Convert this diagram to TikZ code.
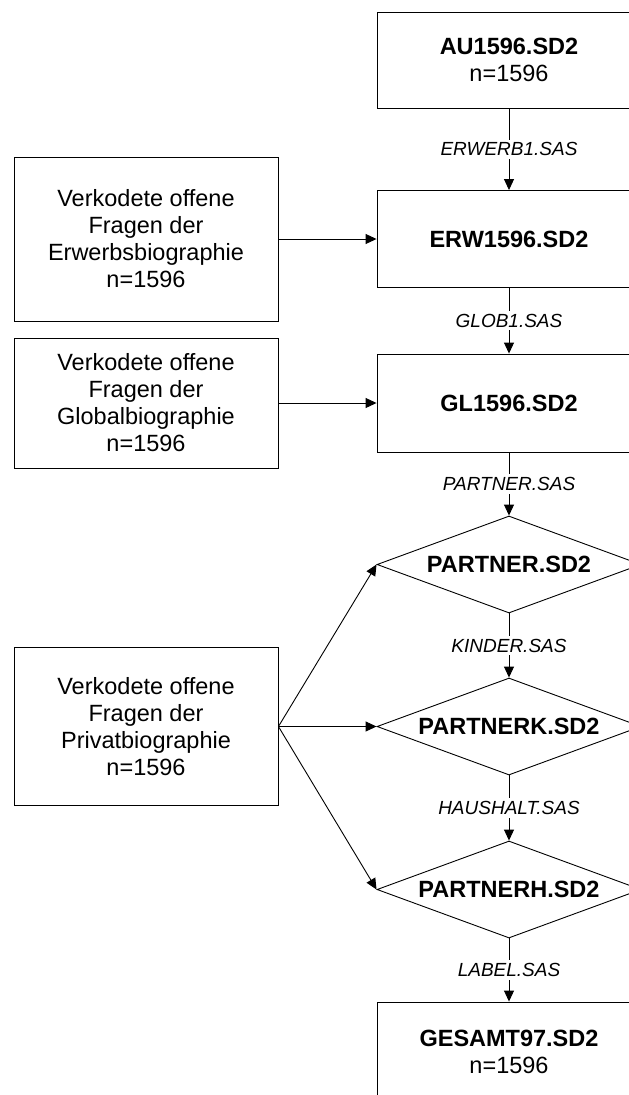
\documentclass[tikz,border=0pt]{standalone}
\usepackage{fontspec}
\setmainfont{Liberation Sans}
\usetikzlibrary{arrows.meta,shapes.geometric}

\begin{document}
\begin{tikzpicture}[x=1pt,y=-1pt,line width=.9pt,
    datei/.style={draw,rectangle,minimum width=264pt,inner sep=0pt,align=center,
      font=\fontsize{23.5}{27}\selectfont},
    raute/.style={draw,diamond,aspect=2.7,minimum width=264pt,minimum height=97pt,
      inner sep=0pt,font=\fontsize{23.5}{27}\selectfont\bfseries},
    quelle/.style={draw,rectangle,minimum width=264pt,inner sep=0pt,align=center,
      font=\fontsize{23.5}{27}\selectfont},
    prog/.style={fill=white,inner sep=3pt,font=\fontsize{19}{22}\selectfont\itshape},
    pfeil/.style={-{Triangle[length=11pt,width=10pt]}}]
      \useasboundingbox (0,0) rectangle (629,1095);
      \clip (0,0) rectangle (629,1095);
      % Datensaetze
      \node[datei,minimum height=96pt] (au) at (509,60) {\textbf{AU1596.SD2}\\n=1596};
      \node[datei,minimum height=97pt] (erw) at (509,239) {\textbf{ERW1596.SD2}};
      \node[datei,minimum height=98pt] (gl) at (509,403) {\textbf{GL1596.SD2}};
      \node[raute] (partner) at (509,564.5) {PARTNER.SD2};
      \node[raute] (partnerk) at (509,726.5) {PARTNERK.SD2};
      \node[raute] (partnerh) at (509,889.5) {PARTNERH.SD2};
      \node[datei,minimum height=99pt] (gesamt) at (509,1051.5) {\textbf{GESAMT97.SD2}\\n=1596};
      % offene Fragen
      \node[quelle,minimum height=164pt] (erwq) at (146,239) {Verkodete offene\\Fragen der\\Erwerbsbiographie\\n=1596};
      \node[quelle,minimum height=130pt] (globq) at (146,403) {Verkodete offene\\Fragen der\\Globalbiographie\\n=1596};
      \node[quelle,minimum height=158pt] (privq) at (146,726.5) {Verkodete offene\\Fragen der\\Privatbiographie\\n=1596};
      % Programme
      \draw[pfeil] (au) -- node[prog] {ERWERB1.SAS} (erw);
      \draw[pfeil] (erw) -- node[prog] {GLOB1.SAS} (gl);
      \draw[pfeil] (gl) -- node[prog] {PARTNER.SAS} (partner);
      \draw[pfeil] (partner) -- node[prog] {KINDER.SAS} (partnerk);
      \draw[pfeil] (partnerk) -- node[prog] {HAUSHALT.SAS} (partnerh);
      \draw[pfeil] (partnerh) -- node[prog] {LABEL.SAS} (gesamt);
      \draw[pfeil] (erwq) -- (erw);
      \draw[pfeil] (globq) -- (gl);
      \draw[pfeil] (privq.east) -- (partner.west);
      \draw[pfeil] (privq.east) -- (partnerk.west);
      \draw[pfeil] (privq.east) -- (partnerh.west);
    \end{tikzpicture}
\end{document}
